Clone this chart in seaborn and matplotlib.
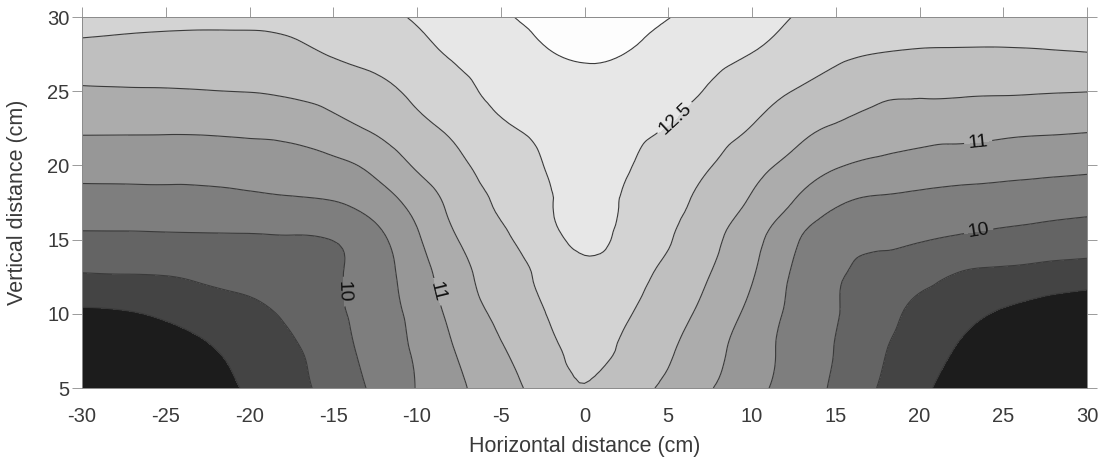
import numpy as np
import matplotlib
matplotlib.use("Agg")
import matplotlib.pyplot as plt
import matplotlib.tri as mtri
import seaborn as sns

# Grid of the section (cm)
x_cm = [-30, -27.5, -25, -22.5, -20, -17.5, -15, -12.5, -10, -7.5, -5, -2.5, 0,
        2.5, 5, 7.5, 10, 12.5, 15, 17.5, 20, 22.5, 25, 27.5, 30]
y_cm = [5, 7.5, 10, 12.5, 15, 17.5, 20, 22.5, 25, 27.5, 30]

# Measured values, one row per vertical distance (left to right along x_cm)
row_y05 = [8.10, 8.35, 8.60, 8.80, 9.06, 9.34, 9.68, 10.09, 10.52, 10.92, 11.32, 11.68, 11.99,
           11.72, 11.40, 11.03, 10.65, 10.29, 9.92, 9.49, 9.12, 8.74, 8.50, 8.30, 8.15]
row_y075 = [8.40, 8.55, 8.72, 8.94, 9.18, 9.42, 9.78, 10.18, 10.57, 11.05, 11.46, 11.81, 12.15,
            11.88, 11.55, 11.17, 10.74, 10.33, 9.98, 9.58, 9.24, 8.94, 8.70, 8.50, 8.35]
row_y10 = [8.90, 8.95, 9.08, 9.23, 9.37, 9.59, 9.89, 10.23, 10.66, 11.20, 11.60, 11.96, 12.30,
           12.05, 11.71, 11.33, 10.86, 10.38, 10.03, 9.70, 9.37, 9.13, 8.95, 8.80, 8.65]
row_y125 = [9.45, 9.47, 9.49, 9.57, 9.64, 9.73, 9.93, 10.27, 10.77, 11.33, 11.74, 12.10, 12.40,
            12.20, 11.87, 11.49, 11.03, 10.43, 10.06, 9.80, 9.66, 9.43, 9.35, 9.28, 9.23]
row_y15 = [9.90, 9.90, 9.91, 9.92, 9.93, 9.95, 10.01, 10.34, 10.93, 11.51, 11.90, 12.29, 12.60,
           12.35, 12.03, 11.63, 11.17, 10.58, 10.18, 10.10, 10.03, 9.93, 9.85, 9.78, 9.72]
row_y175 = [10.30, 10.31, 10.33, 10.35, 10.38, 10.43, 10.48, 10.73, 11.18, 11.70, 12.06, 12.38, 12.70,
            12.43, 12.14, 11.82, 11.44, 10.98, 10.56, 10.43, 10.38, 10.32, 10.28, 10.22, 10.17]
row_y20 = [10.69, 10.69, 10.68, 10.68, 10.73, 10.77, 10.88, 11.14, 11.56, 11.91, 12.22, 12.49, 12.85,
           12.56, 12.28, 12.02, 11.68, 11.35, 11.05, 10.88, 10.80, 10.74, 10.69, 10.65, 10.61]
row_y225 = [11.07, 11.07, 11.07, 11.08, 11.11, 11.16, 11.34, 11.57, 11.86, 12.14, 12.42, 12.67, 12.90,
            12.70, 12.48, 12.23, 11.98, 11.67, 11.45, 11.33, 11.20, 11.18, 11.12, 11.08, 11.05]
row_y25 = [11.44, 11.46, 11.47, 11.49, 11.51, 11.57, 11.69, 11.88, 12.10, 12.39, 12.60, 12.78, 12.90,
           12.83, 12.65, 12.46, 12.20, 11.99, 11.79, 11.59, 11.57, 11.56, 11.55, 11.53, 11.51]
row_y275 = [11.84, 11.81, 11.79, 11.79, 11.80, 11.87, 12.03, 12.13, 12.33, 12.58, 12.74, 12.94, 13.06,
            12.99, 12.81, 12.65, 12.49, 12.28, 12.10, 11.99, 11.94, 11.93, 11.93, 11.95, 11.98]
row_y30 = [12.20, 12.17, 12.14, 12.12, 12.13, 12.18, 12.26, 12.38, 12.55, 12.75, 12.95, 13.10, 13.20,
           13.12, 13.01, 12.84, 12.66, 12.49, 12.35, 12.33, 12.32, 12.31, 12.30, 12.30, 12.29]

band_levels = [7.0, 9, 9.5, 10, 10.5, 11, 11.5, 12, 12.5, 13, 14.0]
labelled_levels = [10, 11, 12.5]

# Grey shades for the filled bands, darkest for the lowest values
band_colors = ["#1c1c1c", "#444444", "#646464", "#7e7e7e", "#979797",
               "#acacac", "#bfbfbf", "#d3d3d3", "#e7e7e7", "#fdfdfd"]

sns.set_theme(style="ticks")
plt.rcParams["font.family"] = ["Liberation Sans", "DejaVu Sans"]
plt.rcParams["axes.unicode_minus"] = False

Z = np.array([row_y05, row_y075, row_y10, row_y125, row_y15, row_y175,
              row_y20, row_y225, row_y25, row_y275, row_y30])
X, Y = np.meshgrid(x_cm, y_cm)

# Smooth the gridded field with matplotlib's cubic triangle refiner for contouring
triang = mtri.Triangulation(X.ravel(), Y.ravel())
refiner = mtri.UniformTriRefiner(triang)
interp = mtri.CubicTriInterpolator(triang, Z.ravel(), kind="min_E")
tri_fine, z_fine = refiner.refine_field(Z.ravel(), triinterpolator=interp, subdiv=3)

fig = plt.figure(figsize=(11.05, 4.65), dpi=100)
ax = fig.add_axes([82 / 1105, 1 - 388 / 465, (1087 - 82) / 1105, (388 - 17) / 465])

ax.tricontourf(tri_fine, z_fine, levels=band_levels, colors=band_colors)

line_style = dict(colors="#3a3a3a", linewidths=0.8)
plain_levels = [v for v in band_levels[1:-1] if v not in labelled_levels]
ax.tricontour(tri_fine, z_fine, levels=plain_levels, **line_style)
named = ax.tricontour(tri_fine, z_fine, levels=labelled_levels, **line_style)

label_spots = [(-14.3, 11.5), (-9.1, 11.4), (5.3, 23.3), (23.5, 21.6), (23.5, 15.8)]
ax.clabel(named, manual=label_spots, fmt="%g",
          fontsize=14, colors="#111111", inline=True, inline_spacing=4)

ax.set_xlim(-30, 30)
ax.set_ylim(5, 30)
ax.set_xticks(np.arange(-30, 31, 5))
ax.set_yticks(np.arange(5, 31, 5))
ax.tick_params(direction="out", length=7, width=0.6, color="#8a8a8a",
               top=True, right=True, labeltop=False, labelright=False,
               labelsize=14.5, labelcolor="#3a3a3a", pad=2)
ax.tick_params(axis="x", bottom=False, pad=7)
for side in ax.spines.values():
    side.set_color("#8a8a8a")
    side.set_linewidth(0.7)

ax.set_xlabel("Horizontal distance (cm)", fontsize=15.5, color="#3a3a3a", labelpad=7)
ax.set_ylabel("Vertical distance (cm)", fontsize=15.5, color="#3a3a3a", labelpad=14)

fig.savefig("out.png", dpi=100)
